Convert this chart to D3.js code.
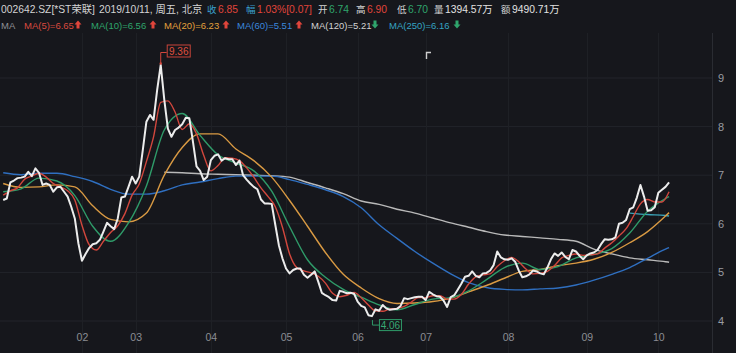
<!DOCTYPE html>
<html><head><meta charset="utf-8">
<script src="https://cdn.jsdelivr.net/npm/d3@7"></script>
<style>
html,body{margin:0;padding:0;background:#16171c;}
svg{display:block;}
text{font-family:"Liberation Sans",Arial,"Noto Sans CJK SC",sans-serif;}
</style></head>
<body><svg id="c" width="736" height="353"></svg>
<script>
// ---------------- data ----------------
const monthLabels = ["02","03","04","05","06","07","08","09","10"];
const monthStart  = [22,37,58,79,99,118,141,163,183];   // trading-day index of first day of month
const yTicks = [4,5,6,7,8,9];

// daily close, trading days 2019-01-02 .. 2019-10-11
const close = [
6.49,6.52,6.85,6.89,6.94,6.95,6.97,7.07,6.98,7.14,
7.05,6.80,6.83,6.80,6.66,6.75,6.76,6.66,6.56,6.35,
6.11,5.60,5.24,5.38,5.50,5.58,5.60,5.67,5.84,6.02,
5.95,5.89,6.11,6.54,6.56,6.76,6.97,6.83,6.97,7.52,
8.10,8.24,8.14,8.75,9.27,8.55,7.96,7.79,7.93,7.98,
8.05,8.18,8.17,7.69,7.18,7.09,6.90,6.97,7.31,7.40,
7.43,7.30,7.35,7.33,7.33,7.21,7.30,7.00,6.91,6.83,
6.76,6.71,6.50,6.42,6.42,6.41,5.98,5.56,5.29,5.08,
4.98,5.05,5.08,5.08,4.95,4.89,4.95,5.02,4.81,4.58,
4.53,4.49,4.43,4.42,4.62,4.60,4.57,4.58,4.56,4.40,
4.31,4.28,4.12,4.10,4.24,4.21,4.33,4.26,4.23,4.24,
4.25,4.31,4.47,4.45,4.47,4.49,4.50,4.50,4.43,4.60,
4.55,4.51,4.50,4.42,4.29,4.49,4.53,4.65,4.77,4.91,
4.93,5.02,4.93,4.90,4.98,4.99,5.04,5.15,5.43,5.31,
5.27,5.26,5.29,5.22,5.04,4.90,4.92,4.96,5.04,5.02,
4.98,4.96,5.10,5.27,5.39,5.34,5.41,5.32,5.27,5.46,
5.43,5.34,5.27,5.35,5.39,5.41,5.46,5.58,5.68,5.67,
5.68,5.72,6.00,6.02,6.08,6.30,6.34,6.54,6.80,6.56,
6.27,6.28,6.34,6.64,6.70,6.76,6.85];

// MA5 sampled every 2 trading days (indices 0,2,...,186)
const ma5 = [
6.59,6.68,6.74,6.92,6.98,7.04,6.96,6.83,6.76,6.68,
6.49,5.97,5.57,5.46,5.64,5.82,5.96,6.21,6.59,6.82,
7.28,7.79,8.50,8.53,8.30,7.94,8.06,7.85,7.41,7.09,
7.20,7.36,7.35,7.30,7.15,6.96,6.74,6.56,6.35,5.93,
5.38,5.10,5.03,4.99,4.92,4.78,4.57,4.50,4.53,4.59,
4.48,4.33,4.21,4.20,4.25,4.26,4.30,4.39,4.48,4.48,
4.52,4.52,4.45,4.45,4.55,4.76,4.91,4.95,4.97,5.12,
5.24,5.31,5.22,5.07,4.97,4.98,5.02,5.14,5.30,5.35,
5.38,5.35,5.36,5.38,5.50,5.61,5.75,5.90,6.15,6.41,
6.50,6.45,6.45,6.66];

// longer moving averages sampled every 5 trading days (index in maIdx)
const maIdx = [0,5,10,15,20,25,30,35,40,45,50,55,60,65,70,75,80,85,90,95,100,105,110,115,120,125,130,135,140,145,150,155,160,165,170,175,180,185,186];
const ma10  = [6.66,6.72,6.94,6.88,6.58,5.95,5.64,6.02,6.78,7.93,8.27,7.82,7.42,7.25,7.09,6.67,5.94,5.26,4.90,4.65,4.49,4.33,4.23,4.34,4.45,4.48,4.62,4.85,5.10,5.19,5.06,5.12,5.30,5.37,5.49,5.81,6.26,6.52,6.56];
const ma20  = [6.83,6.75,6.76,6.80,6.76,6.37,6.09,6.04,6.22,7.00,7.57,7.85,7.85,7.54,7.30,6.96,6.48,5.95,5.41,4.96,4.68,4.46,4.36,4.37,4.40,4.47,4.60,4.73,4.88,5.02,5.06,5.14,5.19,5.27,5.41,5.61,5.84,6.16,6.23];
const ma60  = [7.05,7.01,7.04,7.04,6.97,6.87,6.71,6.61,6.61,6.68,6.80,6.86,6.93,6.98,6.98,6.98,6.91,6.81,6.70,6.56,6.33,5.98,5.70,5.43,5.19,4.97,4.79,4.69,4.65,4.64,4.66,4.68,4.74,4.84,4.96,5.10,5.29,5.48,5.51];
const ma120 = [null,null,null,null,null,null,null,null,null,7.06,7.05,7.03,7.02,7.01,7.00,6.99,6.96,6.85,6.74,6.62,6.47,6.40,6.30,6.22,6.12,6.02,5.93,5.84,5.77,5.74,5.71,5.68,5.64,5.48,5.38,5.30,5.26,5.22,5.21];
const ma250 = [null,null,null,null,null,null,null,null,null,null,null,null,null,null,null,null,null,null,null,null,null,null,null,null,null,null,null,null,null,null,null,null,null,null,null,6.22,6.19,6.17,6.16];

const maNames = ["MA(5)","MA(10)","MA(20)","MA(60)","MA(120)","MA(250)"];
const maLast  = [6.65,6.56,6.23,5.51,5.21,6.16];
const maUp    = [true,true,true,true,false,false];

const title = "002642.SZ[*ST荣联]";
const dateText = "2019/10/11, 周五, 北京";
const quoteLabels = ["收","幅","开","高","低","量","额"];
const quoteValues = ["6.85","1.03%[0.07]","6.74","6.90","6.70","1394.57万","9490.71万"];
const highPoint = {i:44, v:9.36};
const lowPoint  = {i:103, v:4.06};

// ---------------- drawing ----------------
const svg = d3.select("#c");
const W = 736, H = 353;
const plotRight = 712;
const x = d3.scaleLinear().domain([0,186]).range([3.2, 3.2+186*3.58]);
const y = d3.scaleLinear().domain([4,9]).range([321,78]);

const colors = {
  ma5:"#d2473d", ma10:"#2f9b69", ma20:"#d99a43", ma60:"#2f6fc0", ma120:"#b9b9b9", ma250:"#3aa3b8",
  close:"#ececec"
};
const legendColors = ["#da4a3f","#2fa56c","#e4a13d","#3b87dc","#d2d2d2","#35a3c2"];

svg.append("rect").attr("width",W).attr("height",H).attr("fill","#16171c");

// grid
const grid = svg.append("g");
grid.selectAll("line.h").data(yTicks).join("line")
  .attr("x1",0).attr("x2",plotRight)
  .attr("y1",d=>y(d)).attr("y2",d=>y(d))
  .attr("stroke","#22242a").attr("stroke-width",1);
grid.selectAll("line.v").data(monthStart).join("line")
  .attr("x1",d=>Math.round(x(d))+0.5).attr("x2",d=>Math.round(x(d))+0.5)
  .attr("y1",33).attr("y2",H)
  .attr("stroke","#1e2025").attr("stroke-width",1);
svg.append("line").attr("x1",plotRight+0.5).attr("x2",plotRight+0.5).attr("y1",33).attr("y2",H)
  .attr("stroke","#2a2c32");

// axes
const xAxis = d3.axisBottom(x).tickValues(monthStart)
  .tickFormat((d,i)=>monthLabels[i]).tickSize(0).tickPadding(4);
const gx = svg.append("g").attr("transform","translate(0,330)").call(xAxis);
gx.select(".domain").remove();
gx.selectAll("text").attr("fill","#8b8d93").attr("font-size",10.5);

const yAxis = d3.axisRight(y).tickValues(yTicks).tickFormat(d3.format("d")).tickSize(0).tickPadding(6);
const gy = svg.append("g").attr("transform",`translate(${plotRight},0)`).call(yAxis);
gy.select(".domain").remove();
gy.selectAll("text").attr("fill","#9a9ca2").attr("font-size",11);

// MA lines
const maLine = d3.line().defined(d=>d[1]!=null)
  .x(d=>x(d[0])).y(d=>y(d[1])).curve(d3.curveMonotoneX);
const maSeries = [
  {pts:maIdx.map((k,j)=>[k,ma250[j]]),c:colors.ma250},
  {pts:maIdx.map((k,j)=>[k,ma120[j]]),c:colors.ma120},
  {pts:maIdx.map((k,j)=>[k,ma60[j]]),c:colors.ma60},
  {pts:maIdx.map((k,j)=>[k,ma20[j]]),c:colors.ma20},
  {pts:maIdx.map((k,j)=>[k,ma10[j]]),c:colors.ma10},
  {pts:ma5.map((v,j)=>[j*2,v]),c:colors.ma5}
];
maSeries.forEach(s=>{
  svg.append("path").datum(s.pts)
    .attr("d",maLine).attr("fill","none").attr("stroke",s.c).attr("stroke-width",1.4);
});

// close line
const cLine = d3.line().x((d,i)=>x(i)).y(d=>y(d));
svg.append("path").datum(close).attr("d",cLine).attr("fill","none")
  .attr("stroke",colors.close).attr("stroke-width",2).attr("stroke-linejoin","round");

// high annotation
{
  const hx = x(highPoint.i), hy = y(highPoint.v);
  const g = svg.append("g");
  g.append("circle").attr("cx",hx).attr("cy",hy+3).attr("r",1.2).attr("fill","#d2473d");
  g.append("path").attr("d",`M${hx},${hy+3}V${hy-8}H${hx+6}`).attr("fill","none").attr("stroke","#d2473d");
  g.append("rect").attr("x",hx+6.5).attr("y",hy-15.5).attr("width",23).attr("height",12)
    .attr("fill","#16171c").attr("stroke","#c8443a");
  g.append("text").attr("x",hx+18).attr("y",hy-6).attr("text-anchor","middle")
    .attr("fill","#e0503f").attr("font-size",10).text(highPoint.v.toFixed(2));
}
// low annotation
{
  const lx = x(lowPoint.i), ly = y(lowPoint.v);
  const g = svg.append("g");
  g.append("path").attr("d",`M${lx+0.5},${ly+2}V${ly+7}H${lx+7}`).attr("fill","none").attr("stroke","#2f9b69");
  g.append("rect").attr("x",lx+7.5).attr("y",ly+1.5).attr("width",22).attr("height",11)
    .attr("fill","#16171c").attr("stroke","#2f9b69");
  g.append("text").attr("x",lx+18.5).attr("y",ly+10.5).attr("text-anchor","middle")
    .attr("fill","#37a873").attr("font-size",10).text(lowPoint.v.toFixed(2));
}
// small corner mark
svg.append("path").attr("d","M426.5,59V52.5H431").attr("fill","none").attr("stroke","#cfcfcf").attr("stroke-width",1.4);

// header row 1
const h1 = svg.append("g").attr("font-size",10.3);
h1.append("text").attr("x",1).attr("y",13).attr("fill","#d4d4d4").text(title);
h1.append("text").attr("x",99).attr("y",13).attr("fill","#d4d4d4").text(dateText);
const qValX   = [218,257,329,367,408,445,512];
const qLabelC = ["#3a9fce","#3a9fce","#d4d4d4","#d4d4d4","#d4d4d4","#d4d4d4","#d4d4d4"];
const qValC   = ["#e0453b","#e0453b","#2fa56c","#e0453b","#2fa56c","#e2e2e2","#e2e2e2"];
quoteLabels.forEach((t,i)=>{
  h1.append("text").attr("x",qValX[i]-1.5).attr("y",13).attr("text-anchor","end")
    .attr("font-size",9.5).attr("fill",qLabelC[i]).text(t);
  h1.append("text").attr("x",qValX[i]).attr("y",13).attr("fill",qValC[i]).text(quoteValues[i]);
});

// header row 2 (MA legend)
const h2 = svg.append("g").attr("font-size",9.5);
h2.append("text").attr("x",1).attr("y",29).attr("fill","#8e9096").text("MA");
const lgX = [24,91,164,237,311,389];
const arX = [78,153,226,299,375,457];
maNames.forEach((n,i)=>{
  h2.append("text").attr("x",lgX[i]).attr("y",29).attr("fill",legendColors[i])
    .text(`${n}=${maLast[i].toFixed(2)}`);
  const ax = arX[i], up = maUp[i];
  const c = up ? "#e0453b" : "#2fa56c";
  const p = up
    ? `M${ax},${20.5}L${ax+3.5},${24.5}H${ax+1.5}V${28.5}H${ax-1.5}V${24.5}H${ax-3.5}Z`
    : `M${ax},${28.5}L${ax+3.5},${24.5}H${ax+1.5}V${20.5}H${ax-1.5}V${24.5}H${ax-3.5}Z`;
  h2.append("path").attr("d",p).attr("fill",c);
});
</script></body></html>
